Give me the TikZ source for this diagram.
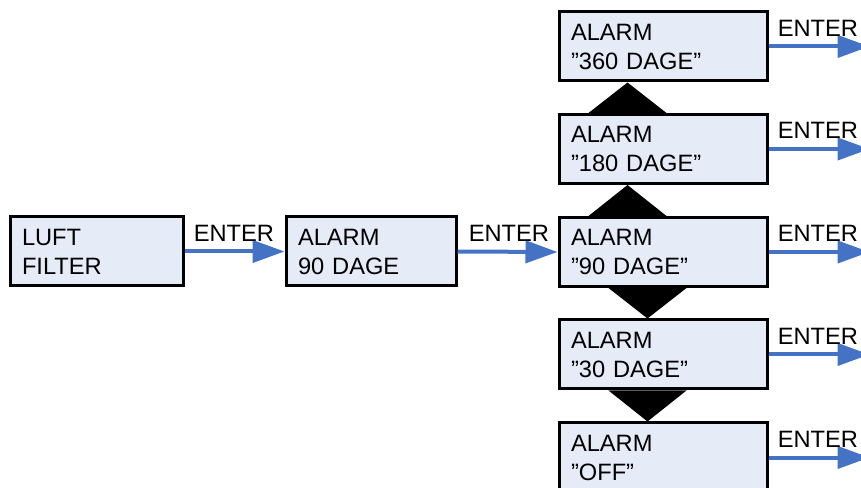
\documentclass[tikz,border=0pt]{standalone}
\usepackage{fontspec}
\setmainfont{Liberation Sans}
\usetikzlibrary{arrows.meta,calc}
\definecolor{boxfill}{RGB}{230,236,247}
\definecolor{arrowblue}{RGB}{68,114,196}
\begin{document}
\begin{tikzpicture}[x=0.75pt,y=0.75pt,yscale=-1,xscale=1,
    font=\fontsize{17.75}{21.75}\selectfont,
    menubox/.style={draw=black, line width=2.25pt, fill=boxfill, minimum height=51.75pt, inner xsep=9pt, inner ysep=0pt, align=left},
    enterarrow/.style={draw=arrowblue, line width=3pt, -{Triangle[length=24pt,width=16.5pt]}},
    enterlabel/.style={anchor=base west, inner sep=0pt}]
\useasboundingbox (0,0) rectangle (861,488);
%Shape: Rectangle
\node [menubox, text width=111.75pt] (luft) at (96.5,251.5) {LUFT\\FILTER};
%Shape: Rectangle
\node [menubox, text width=109.5pt] (a90) at (371,251.5) {ALARM\\90 DAGE};
%Shape: Rectangle
\node [menubox, text width=138pt] (c360) at (663,46.5) {ALARM\\”360 DAGE”};
%Shape: Rectangle
\node [menubox, text width=138pt] (c180) at (663,149) {ALARM\\”180 DAGE”};
%Shape: Rectangle
\node [menubox, text width=138pt] (c90) at (663,252) {ALARM\\”90 DAGE”};
%Shape: Rectangle
\node [menubox, text width=138pt] (c30) at (663,354.5) {ALARM\\”30 DAGE”};
%Shape: Rectangle
\node [menubox, text width=138pt] (coff) at (663,457.5) {ALARM\\”OFF”};

%Shape: Triangle
\fill ($(c180.north west)+(31,0)$) -- ($(c180.north west)+(109,0)$) -- ($(c360.south west)+(70,0)$) -- cycle;
%Shape: Triangle
\fill ($(c90.north west)+(31,0)$) -- ($(c90.north west)+(109,0)$) -- ($(c180.south west)+(70,0)$) -- cycle;
%Shape: Triangle
\fill ($(c90.south west)+(51,0)$) -- ($(c90.south west)+(129,0)$) -- ($(c30.north west)+(90,0)$) -- cycle;
%Shape: Triangle
\fill ($(c30.south west)+(51,0)$) -- ($(c30.south west)+(129,0)$) -- ($(coff.north west)+(90,0)$) -- cycle;

%Straight Lines
\draw [enterarrow] (luft.east) -- (a90.west);
\draw [enterarrow] (a90.east) -- (c90.west);
\coordinate (e360) at ($(c360.east)+(101,0)$);
\coordinate (e180) at ($(c180.east)+(101,0)$);
\coordinate (e90) at ($(c90.east)+(101,0)$);
\coordinate (e30) at ($(c30.east)+(101,0)$);
\coordinate (eoff) at ($(coff.east)+(101,0)$);
\draw [enterarrow] (c360.east) -- (e360);
\draw [enterarrow] (c180.east) -- (e180);
\draw [enterarrow] (c90.east) -- (e90);
\draw [enterarrow] (c30.east) -- (e30);
\draw [enterarrow] (coff.east) -- (eoff);

% Text Node
\node [enterlabel] (t1) at ($(luft.east)+(9,-10)$) {ENTER};
% Text Node
\node [enterlabel] (t2) at ($(a90.east)+(11,-10)$) {ENTER};
% Text Node
\node [enterlabel] (t3) at ($(c360.east)+(9,-10)$) {ENTER};
% Text Node
\node [enterlabel] (t4) at ($(c180.east)+(9,-10)$) {ENTER};
% Text Node
\node [enterlabel] (t5) at ($(c90.east)+(9,-10)$) {ENTER};
% Text Node
\node [enterlabel] (t6) at ($(c30.east)+(9,-10)$) {ENTER};
% Text Node
\node [enterlabel] (t7) at ($(coff.east)+(9,-10)$) {ENTER};
\end{tikzpicture}
\end{document}
